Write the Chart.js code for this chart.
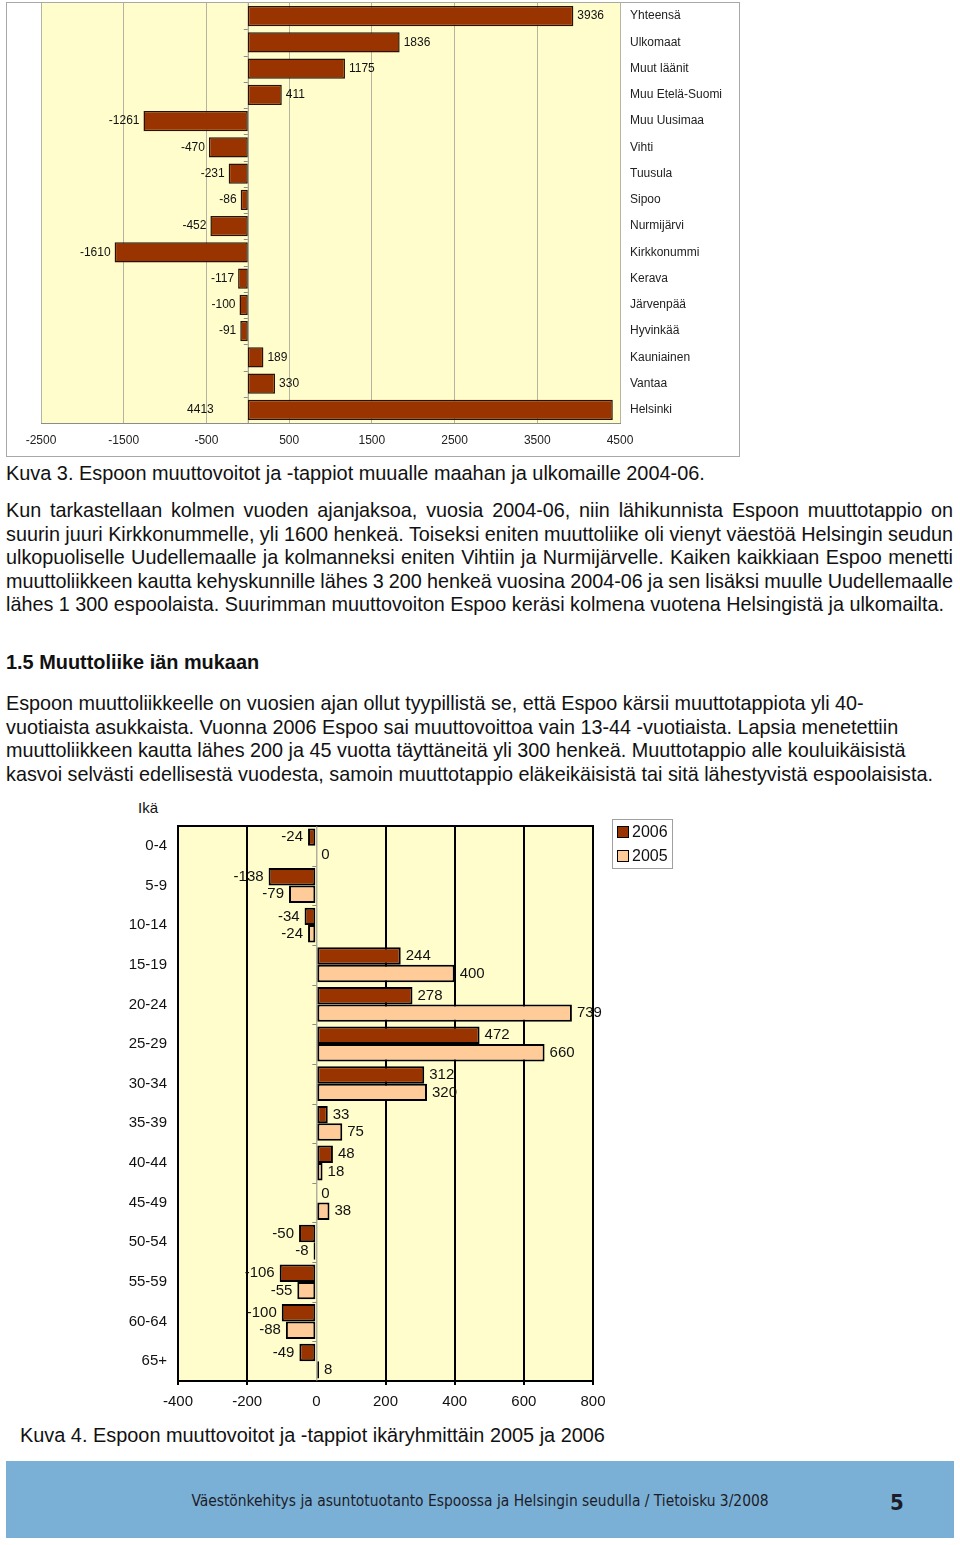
<!DOCTYPE html>
<html lang="fi">
<head>
<meta charset="utf-8">
<script src="https://cdn.jsdelivr.net/npm/chart.js@4.4.0/dist/chart.umd.min.js"></script>
<style>
  html, body { margin: 0; padding: 0; background: #fff; }
  body { width: 960px; height: 1545px; position: relative; overflow: hidden;
         font-family: "Liberation Sans", Arial, sans-serif; color: #111; }
  .abs { position: absolute; }
  canvas { position: absolute; left: 0; }
  .frame { border: 1px solid #a8a8a8; }
  .cap { font-size: 19.9px; line-height: 22px; white-space: nowrap; }
  .para { left: 6px; width: 947px; font-size: 19.8px; line-height: 23.5px; }
  .para div { white-space: nowrap; }
  .just div { text-align: justify; text-align-last: justify; word-spacing: -1px; }
  .just div.last { text-align-last: left; word-spacing: 0; }
  .legend { border: 1px solid #a0a0a0; font-size: 16px; line-height: 24px; padding: 0 4px; }
  .legend span.box { display: inline-block; width: 10px; height: 10px; border: 1px solid #000; margin-right: 3px; vertical-align: -1px; }
  .footer { left: 6px; top: 1461px; width: 948px; height: 77px; background: #7BB0D6; }
  .footer .t { position: absolute; left: 0; width: 948px; top: 31px; text-align: center;
               font-family: "Liberation Sans Narrow", "DejaVu Sans Condensed", sans-serif; font-size: 15.4px; color: #1c1c28; }
  .footer .n { position: absolute; left: 884px; top: 29px; font-family: "Liberation Sans Narrow", "DejaVu Sans Condensed", sans-serif;
               font-weight: bold; font-size: 22px; color: #1c1c28; }
</style>
</head>
<body>

<div class="abs frame" style="left:6px;top:2px;width:732px;height:453px;"></div>
<canvas id="muuttoChart" width="960" height="460" style="top:0"></canvas>

<div class="abs cap" style="left:6px;top:462px;">Kuva 3. Espoon muuttovoitot ja -tappiot muualle maahan ja ulkomaille 2004-06.</div>

<div class="abs para just" style="top:499px;">
  <div>Kun tarkastellaan kolmen vuoden ajanjaksoa, vuosia 2004-06, niin lähikunnista Espoon muuttotappio on</div>
  <div>suurin juuri Kirkkonummelle, yli 1600 henkeä. Toiseksi eniten muuttoliike oli vienyt väestöä Helsingin seudun</div>
  <div>ulkopuoliselle Uudellemaalle ja kolmanneksi eniten Vihtiin ja Nurmijärvelle. Kaiken kaikkiaan Espoo menetti</div>
  <div>muuttoliikkeen kautta kehyskunnille lähes 3 200 henkeä vuosina 2004-06 ja sen lisäksi muulle Uudellemaalle</div>
  <div class="last">lähes 1 300 espoolaista. Suurimman muuttovoiton Espoo keräsi kolmena vuotena Helsingistä ja ulkomailta.</div>
</div>

<div class="abs cap" style="left:6px;top:651px;font-weight:bold;">1.5 Muuttoliike iän mukaan</div>

<div class="abs para" style="top:692px;">
  <div>Espoon muuttoliikkeelle on vuosien ajan ollut tyypillistä se, että Espoo kärsii muuttotappiota yli 40-</div>
  <div>vuotiaista asukkaista. Vuonna 2006 Espoo sai muuttovoittoa vain 13-44 -vuotiaista. Lapsia menetettiin</div>
  <div>muuttoliikkeen kautta lähes 200 ja 45 vuotta täyttäneitä yli 300 henkeä. Muuttotappio alle kouluikäisistä</div>
  <div>kasvoi selvästi edellisestä vuodesta, samoin muuttotappio eläkeikäisistä tai sitä lähestyvistä espoolaisista.</div>
</div>

<div class="abs" style="left:138px;top:799px;font-size:15px;line-height:18px;">Ikä</div>
<canvas id="ikaChart" width="960" height="620" style="top:800px"></canvas>
<div class="abs legend" style="left:612px;top:819px;">
  <div><span class="box" style="background:#993300"></span>2006</div>
  <div><span class="box" style="background:#FFCC99"></span>2005</div>
</div>

<div class="abs cap" style="left:20px;top:1424px;">Kuva 4. Espoon muuttovoitot ja -tappiot ikäryhmittäin 2005 ja 2006</div>

<div class="abs footer">
  <div class="t">Väestönkehitys ja asuntotuotanto Espoossa ja Helsingin seudulla / Tietoisku 3/2008</div>
  <div class="n">5</div>
</div>

<script>
// Kuva 3: muuttovoitot ja -tappiot 2004-06
const alueet = ['Yhteensä', 'Ulkomaat', 'Muut läänit', 'Muu Etelä-Suomi', 'Muu Uusimaa', 'Vihti', 'Tuusula', 'Sipoo',
                'Nurmijärvi', 'Kirkkonummi', 'Kerava', 'Järvenpää', 'Hyvinkää', 'Kauniainen', 'Vantaa', 'Helsinki'];
const muutto = [3936, 1836, 1175, 411, -1261, -470, -231, -86, -452, -1610, -117, -100, -91, 189, 330, 4413];
const muuttoTicks = [-2500, -1500, -500, 500, 1500, 2500, 3500, 4500];

// Kuva 4: ikäryhmittäin 2005 ja 2006
const ikaryhmat = ['0-4', '5-9', '10-14', '15-19', '20-24', '25-29', '30-34', '35-39', '40-44', '45-49', '50-54', '55-59', '60-64', '65+'];
const v2006 = [-24, -138, -34, 244, 278, 472, 312, 33, 48, 0, -50, -106, -100, -49];
const v2005 = [0, -79, -24, 400, 739, 660, 320, 75, 18, 38, -8, -55, -88, 8];
const ikaTicks = [-400, -200, 0, 200, 400, 600, 800];

Chart.defaults.font.family = '"Liberation Sans", Arial, sans-serif';
Chart.defaults.color = '#111';
Chart.defaults.animation = false;

const plotBg = {
    id: 'plotBg',
    beforeDraw(chart, args, opts) {
        const a = chart.chartArea, c = chart.ctx;
        c.save();
        c.fillStyle = opts.color;
        c.fillRect(a.left, a.top, a.right - a.left, a.bottom - a.top);
        c.restore();
    },
    beforeDatasetsDraw(chart, args, opts) {
        if (!opts.topLine) return;
        const a = chart.chartArea, c = chart.ctx;
        c.save();
        c.strokeStyle = opts.topLine;
        c.lineWidth = 2;
        c.beginPath(); c.moveTo(a.left - 1, a.top); c.lineTo(a.right + 1, a.top); c.stroke();
        c.restore();
    }
};

// zero line with small tick marks between categories
const zeroLine = {
    id: 'zeroLine',
    beforeDatasetsDraw(chart, args, opts) {
        const a = chart.chartArea, c = chart.ctx;
        const x0 = chart.scales.x.getPixelForValue(0);
        const n = chart.data.labels.length;
        const h = (a.bottom - a.top) / n;
        c.save();
        c.strokeStyle = opts.color;
        c.lineWidth = 1;
        c.beginPath();
        c.moveTo(x0 + 0.5, a.top); c.lineTo(x0 + 0.5, a.bottom);
        for (let i = 1; i < n; i++) {
            const y = Math.round(a.top + i * h) + 0.5;
            c.moveTo(x0 - 4, y); c.lineTo(x0, y);
        }
        c.stroke();
        c.restore();
    }
};

const valueLabels = {
    id: 'valueLabels',
    afterDatasetsDraw(chart, args, opts) {
        const c = chart.ctx;
        c.save();
        c.font = opts.size + 'px "Liberation Sans", Arial, sans-serif';
        c.fillStyle = '#111';
        c.textBaseline = 'middle';
        chart.data.datasets.forEach((ds, di) => {
            chart.getDatasetMeta(di).data.forEach((bar, i) => {
                const v = ds.data[i];
                const txt = String(v);
                const w = c.measureText(txt).width;
                let x, align;
                if (v < 0) { x = bar.x - opts.gap; align = 'right'; }
                else if (bar.x + opts.gap + w > chart.chartArea.right + opts.overflow) { x = bar.base - opts.inside; align = 'right'; }
                else { x = bar.x + opts.gap; align = 'left'; }
                c.textAlign = align;
                c.fillText(txt, x, bar.y);
            });
        });
        c.restore();
    }
};

// keep the plot area exactly where the padding puts it
const noScalePad = s => { s.paddingTop = 0; s.paddingBottom = 0; };

new Chart(document.getElementById('muuttoChart'), {
    type: 'bar',
    data: {
        labels: alueet,
        datasets: [{
            data: muutto,
            backgroundColor: '#993300',
            borderColor: '#2a1200',
            borderWidth: 1.5,
            borderSkipped: false,
            barPercentage: 0.78,
            categoryPercentage: 1
        }]
    },
    options: {
        indexAxis: 'y',
        responsive: false,
        layout: { padding: { left: 41, top: 3, right: 220, bottom: 7 } },
        plugins: {
            legend: { display: false },
            tooltip: { enabled: false },
            plotBg: { color: '#FFFDCC' },
            zeroLine: { color: '#8c8c8c' },
            valueLabels: { size: 12, gap: 4, inside: 34, overflow: 0 }
        },
        scales: {
            x: {
                min: -2500, max: 4500,
                afterBuildTicks: s => { s.ticks = muuttoTicks.map(v => ({ value: v })); },
                ticks: { font: { size: 12 }, color: '#222', padding: 10, callback: v => String(v) },
                grid: { color: '#b4b4a0', drawTicks: false },
                border: { color: '#8c8c8c' },
                afterFit: s => { s.height = 30; }
            },
            y: {
                position: 'right',
                grid: { display: false, drawTicks: false },
                border: { display: false },
                ticks: { font: { size: 12 }, color: '#222', padding: 10 },
                afterFit: s => { s.width = 120; noScalePad(s); }
            }
        }
    },
    plugins: [plotBg, zeroLine, valueLabels]
});

new Chart(document.getElementById('ikaChart'), {
    type: 'bar',
    data: {
        labels: ikaryhmat,
        datasets: [
            { label: '2006', data: v2006, backgroundColor: '#993300', borderColor: '#000', borderWidth: 2,
              borderSkipped: false, barPercentage: 1, categoryPercentage: 0.88 },
            { label: '2005', data: v2005, backgroundColor: '#FFCC99', borderColor: '#000', borderWidth: 2,
              borderSkipped: false, barPercentage: 1, categoryPercentage: 0.88 }
        ]
    },
    options: {
        indexAxis: 'y',
        responsive: false,
        layout: { padding: { left: 78, top: 26, right: 367, bottom: 4 } },
        plugins: {
            legend: { display: false },
            tooltip: { enabled: false },
            plotBg: { color: '#FFFDCC', topLine: '#000' },
            zeroLine: { color: '#8c8c8c' },
            valueLabels: { size: 15, gap: 5, inside: 20, overflow: 30 }
        },
        scales: {
            x: {
                min: -400, max: 800,
                afterBuildTicks: s => { s.ticks = ikaTicks.map(v => ({ value: v })); },
                ticks: { font: { size: 15 }, color: '#111', padding: 8, callback: v => String(v) },
                grid: { color: ctx => ctx.tick && ctx.tick.value === 0 ? 'rgba(0,0,0,0)' : '#000', lineWidth: 2, tickLength: 4 },
                border: { color: '#000', width: 2 },
                afterFit: s => { s.height = 35; }
            },
            y: {
                grid: { display: false, drawTicks: false },
                border: { display: false },
                ticks: { font: { size: 15 }, color: '#111', padding: 11 },
                afterFit: s => { s.width = 100; noScalePad(s); }
            }
        }
    },
    plugins: [plotBg, zeroLine, valueLabels]
});
</script>
</body>
</html>
